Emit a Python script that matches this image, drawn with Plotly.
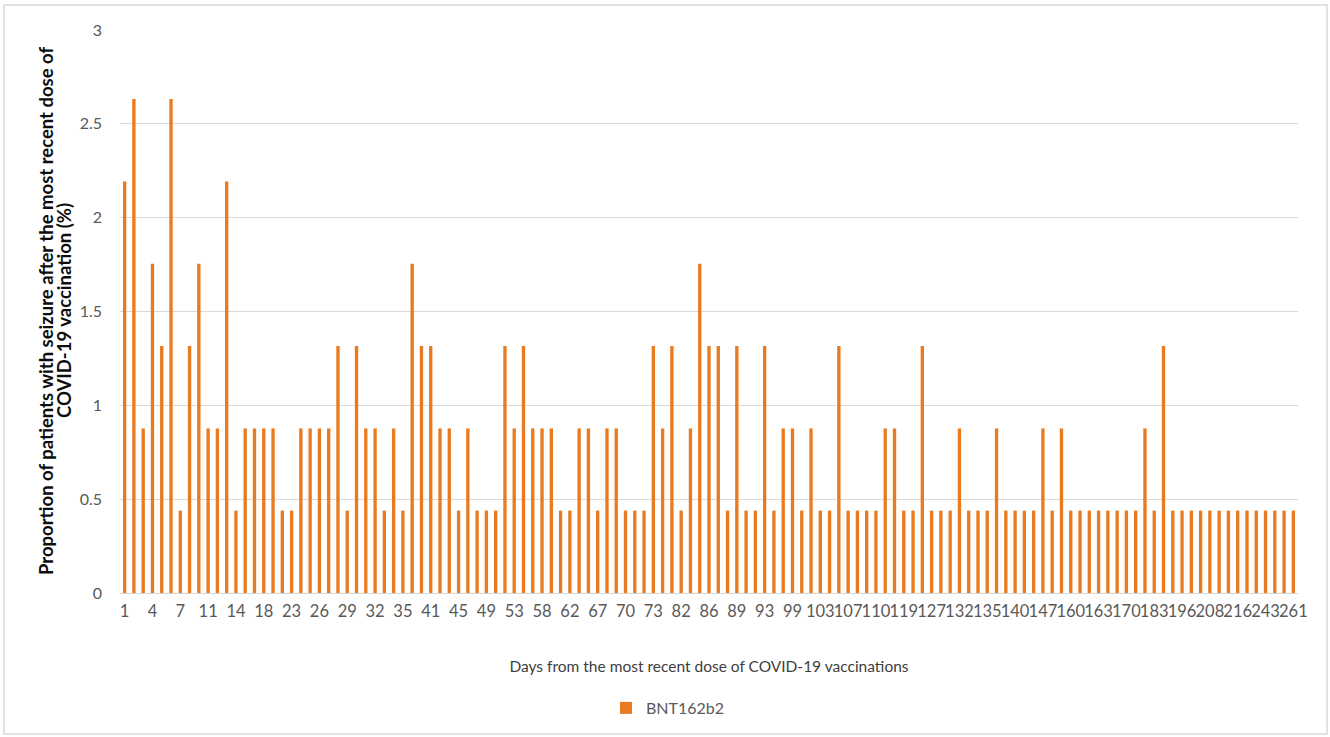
import plotly.graph_objects as go

# Days since most recent dose (every 3rd label is read from the axis; the ones between are estimated)
days = [
    1, 2, 3, 4, 5, 6, 7, 8, 10, 11, 12, 13, 14, 15, 17, 18, 19, 21,
    23, 24, 25, 26, 27, 28, 29, 30, 31, 32, 33, 34, 35, 37, 39,
    41, 42, 44, 45, 46, 48, 49, 50, 52, 53, 54, 56, 58, 59, 61,
    62, 64, 65, 67, 68, 69, 70, 71, 72, 73, 76, 79, 82, 84, 85,
    86, 87, 88, 89, 90, 92, 93, 95, 97, 99, 101, 102, 103, 105, 106,
    107, 108, 109, 110, 113, 116, 119, 122, 124, 127, 129, 130,
    132, 133, 134, 135, 137, 138, 140, 142, 145, 147, 151, 155,
    160, 161, 162, 163, 165, 168, 170, 175, 179, 183, 188, 192,
    196, 199, 203, 208, 211, 213, 216, 225, 234, 243, 248, 254, 261,
]

# Proportion of patients with seizure (%)
bnt162b2_pct = [
    2.193, 2.632, 0.877, 1.754, 1.316, 2.632, 0.439, 1.316, 1.754, 0.877,
    0.877, 2.193, 0.439, 0.877, 0.877, 0.877, 0.877, 0.439, 0.439, 0.877,
    0.877, 0.877, 0.877, 1.316, 0.439, 1.316, 0.877, 0.877, 0.439, 0.877,
    0.439, 1.754,
    1.316, 1.316, 0.877, 0.877, 0.439, 0.877, 0.439, 0.439, 0.439, 1.316,
    0.877, 1.316, 0.877, 0.877, 0.877, 0.439, 0.439, 0.877, 0.877, 0.439,
    0.877, 0.877, 0.439, 0.439, 0.439, 1.316, 0.877, 1.316, 0.439, 0.877,
    1.754, 1.316,
    1.316, 0.439, 1.316, 0.439, 0.439, 1.316, 0.439, 0.877, 0.877, 0.439,
    0.877, 0.439, 0.439, 1.316, 0.439, 0.439, 0.439, 0.439, 0.877, 0.877,
    0.439, 0.439, 1.316, 0.439, 0.439, 0.439, 0.877, 0.439, 0.439, 0.439,
    0.877,
    0.439, 0.439, 0.439, 0.439, 0.877, 0.439, 0.877, 0.439, 0.439, 0.439,
    0.439, 0.439, 0.439, 0.439, 0.439, 0.877, 0.439, 1.316, 0.439, 0.439,
    0.439, 0.439, 0.439, 0.439, 0.439, 0.439, 0.439, 0.439, 0.439, 0.439,
    0.439, 0.439,
]

tick_days = days[::3]

y_title_line1 = "Proportion of patients with seizure after the most recent dose of"
y_title_line2 = "COVID-19 vaccination (%)"
x_title = "Days from the most recent dose of COVID-19 vaccinations"

x_cats = [str(d) for d in days]
tick_cats = [str(d) for d in tick_days]

FONT = "Lato"
W, H = 1330, 737
ML, MR, MT, MB = 120, 32, 30, 144
PW = W - ML - MR
PH = H - MT - MB


def sx(px):
    """screen x pixel -> paper x"""
    return (px - ML) / PW


def sy(py):
    """screen y pixel -> paper y"""
    return (H - MB - py) / PH


fig = go.Figure(
    go.Bar(
        x=x_cats,
        y=bnt162b2_pct,
        name="BNT162b2",
        marker=dict(color="#E97A20", line=dict(width=0)),
        showlegend=True,
    )
)

fig.update_layout(
    width=W,
    height=H,
    margin=dict(l=ML, r=MR, t=MT, b=MB, autoexpand=False),
    paper_bgcolor="white",
    plot_bgcolor="white",
    font=dict(family=FONT, size=16, color="#595959"),
    bargap=0.64,
    showlegend=True,
    legend=dict(
        orientation="h",
        x=sx(668),
        xanchor="center",
        y=sy(708),
        yanchor="middle",
        font=dict(family=FONT, size=16, color="#595959"),
        bgcolor="rgba(0,0,0,0)",
    ),
    xaxis=dict(
        type="category",
        tickmode="array",
        tickvals=tick_cats,
        ticktext=tick_cats,
        tickangle=0,
        tickfont=dict(family=FONT, size=16.5, color="#595959"),
        showgrid=False,
        showline=False,
        zeroline=False,
        ticks="",
        ticklabelstandoff=6,
        title=dict(
            text=x_title,
            font=dict(family=FONT, size=15.5, color="#404040"),
            standoff=41,
        ),
    ),
    yaxis=dict(
        range=[0, 3],
        tick0=0,
        dtick=0.5,
        tickfont=dict(family=FONT, size=16, color="#595959"),
        showgrid=True,
        gridcolor="#d9d9d9",
        gridwidth=1.3,
        zeroline=True,
        zerolinecolor="#d9d9d9",
        zerolinewidth=1.3,
        showline=False,
        ticks="",
        ticklabelstandoff=17,
    ),
    annotations=[
        dict(
            text="<b>" + y_title_line1 + "</b>",
            textangle=-90,
            xref="paper",
            yref="paper",
            x=sx(46),
            y=sy(311),
            xanchor="center",
            yanchor="middle",
            showarrow=False,
            font=dict(family=FONT, size=18.5, color="#0d0d0d"),
        ),
        dict(
            text="<b>" + y_title_line2 + "</b>",
            textangle=-90,
            xref="paper",
            yref="paper",
            x=sx(64),
            y=sy(311),
            xanchor="center",
            yanchor="middle",
            showarrow=False,
            font=dict(family=FONT, size=18.5, color="#0d0d0d"),
        ),
    ],
    shapes=[
        dict(
            type="rect",
            xref="paper",
            yref="paper",
            x0=sx(4),
            x1=sx(1327),
            y0=sy(734),
            y1=sy(5),
            line=dict(color="#d9d9d9", width=1.5),
            fillcolor="rgba(0,0,0,0)",
            layer="below",
        )
    ],
)

fig.write_html(
    "out.html",
    config={"displayModeBar": False},
    post_script="document.body.style.margin='0';document.body.style.overflow='hidden';",
)
